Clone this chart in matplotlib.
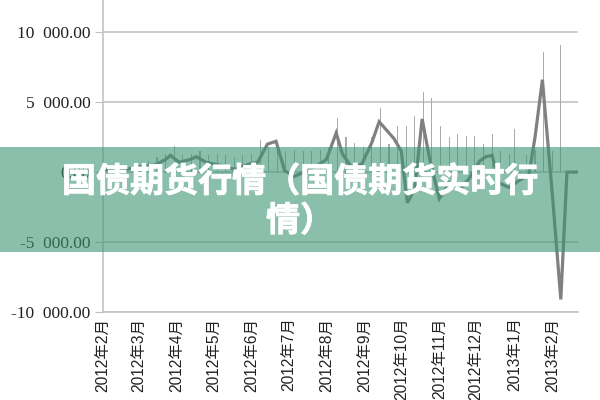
import matplotlib
matplotlib.use("Agg")
import matplotlib.pyplot as plt
import matplotlib.patheffects as pe
from matplotlib.patches import Rectangle
import pandas as pd

# ---- data ----
line_dates = ["2012-02-01", "2012-02-15", "2012-03-02", "2012-03-14", "2012-03-23",
              "2012-03-27", "2012-04-03", "2012-04-12", "2012-04-17", "2012-04-25",
              "2012-05-06", "2012-05-18", "2012-05-31", "2012-06-06", "2012-06-14",
              "2012-06-21", "2012-06-28", "2012-07-06", "2012-07-14", "2012-07-25",
              "2012-08-01", "2012-08-09", "2012-08-14", "2012-08-22", "2012-08-30",
              "2012-09-07", "2012-09-13", "2012-09-25", "2012-10-01", "2012-10-06",
              "2012-10-12", "2012-10-18", "2012-10-24", "2012-11-01", "2012-11-09",
              "2012-11-17", "2012-11-25", "2012-12-04", "2012-12-09", "2012-12-14",
              "2012-12-20", "2012-12-28", "2013-01-05", "2013-01-13", "2013-01-18",
              "2013-01-24", "2013-02-01", "2013-02-08", "2013-02-13", "2013-02-22"]
line_values = [200, 100, 400, 500, 900,
               1200, 700, 900, 1100, 700,
               500, 200, 600, 700, 2000,
               2200, 100, -300, 0, 500,
               900, 2800, 1300, 300, 600,
               2100, 3600, 2400, 1500, -2200,
               -1200, 3800, 1000, -1900, -800,
               -1300, -500, 800, 1100, 1200,
               -800, -1100, -600, -200, 2500,
               6600, -1500, -9100, 0, 0]

bar_dates = ["2012-03-09", "2012-03-16", "2012-03-23", "2012-03-30", "2012-04-06",
             "2012-04-13", "2012-04-20", "2012-04-27", "2012-05-04", "2012-05-11",
             "2012-05-18", "2012-05-25", "2012-06-01", "2012-06-08", "2012-06-15",
             "2012-06-22", "2012-06-29", "2012-07-06", "2012-07-13", "2012-07-20",
             "2012-07-27", "2012-08-03", "2012-08-10", "2012-08-17", "2012-08-24",
             "2012-08-31", "2012-09-07", "2012-09-14", "2012-09-21", "2012-09-28",
             "2012-10-05", "2012-10-12", "2012-10-19", "2012-10-26", "2012-11-02",
             "2012-11-09", "2012-11-16", "2012-11-23", "2012-11-30", "2012-12-07",
             "2012-12-14", "2012-12-21", "2012-12-28", "2013-01-01", "2013-01-11",
             "2013-01-18", "2013-01-25", "2013-02-01", "2013-02-08"]
bar_values = [800, 1100, 1300, 1900, 1200,
              1300, 1500, 1200, 1300, 1200,
              1100, 1200, 1300, 2300, 1800,
              1700, 1500, 1600, 1500, 1500,
              1600, 1700, 3900, 2500, 2100,
              1800, 2500, 4600, 2000, 3300,
              3300, 4000, 5700, 5300, 3300,
              2500, 2700, 2600, 2600, 2000,
              2700, 1500, 1300, 3100, 1200,
              1600, 8600, 1500, 9100]

month_ticks = pd.date_range("2012-02-01", "2013-02-01", freq="MS")
month_labels = [f"{d.year}年{d.month}月" for d in month_ticks]
y_ticks = [-10000, -5000, 0, 5000, 10000]
y_labels = ["-10\u2002000.00", "-5\u2002000.00", "0.00", "5\u2002000.00", "10\u2002000.00"]
title_text = "国债期货行情（国债期货实时行\n情）"

# ---- figure ----
fig = plt.figure(figsize=(6, 4), dpi=100)
ax = fig.add_axes([103 / 600, (400 - 312) / 400, (578 - 103) / 600, 312 / 400])

ld = pd.to_datetime(line_dates)
bd = pd.to_datetime(bar_dates)

ax.bar(bd, bar_values, width=0.9, color="#ababab", zorder=2)
ax.plot(ld, line_values, color="#808080", lw=2.3, zorder=3, solid_joinstyle="miter")

ax.set_xlim(pd.Timestamp("2012-02-01"), pd.Timestamp("2013-02-22"))
ax.set_ylim(-10000, 12300)

ax.set_yticks(y_ticks)
ax.set_yticklabels(y_labels, family=["Liberation Serif", "DejaVu Serif"], fontsize=12.5, color="#222222")
ax.set_xticks(month_ticks)
ax.set_xticklabels(month_labels, rotation=90, ha="center", va="top",
                   family=["Liberation Sans", "Noto Sans CJK SC"], fontsize=11.2, color="#222222")
ax.tick_params(axis="x", length=0, pad=4)
ax.tick_params(axis="y", length=6, color="#c0c0c0", pad=3)

ax.grid(axis="y", color="#c4c4c4", lw=1.2, zorder=1)
ax.set_axisbelow(True)
for s in ["top", "right"]:
    ax.spines[s].set_visible(False)
ax.spines["left"].set_color("#c4c4c4")
ax.spines["left"].set_linewidth(1.2)
ax.spines["bottom"].set_color("#c4c4c4")
ax.spines["bottom"].set_linewidth(1.2)

# ---- overlay banner ----
fig.patches.append(Rectangle((0, (400 - 252) / 400), 1, 105 / 400, transform=fig.transFigure,
                             facecolor=(60 / 255, 150 / 255, 115 / 255), alpha=0.6,
                             edgecolor="none", zorder=10))
fig.text(0.5, (400 - 201) / 400, title_text, ha="center", va="center", color="white",
         fontsize=24.5, fontweight="bold", family=["Noto Sans CJK SC"],
         linespacing=1.15, zorder=11,
         path_effects=[pe.withStroke(linewidth=0.6, foreground="white")])

fig.savefig("out.png", dpi=100)
